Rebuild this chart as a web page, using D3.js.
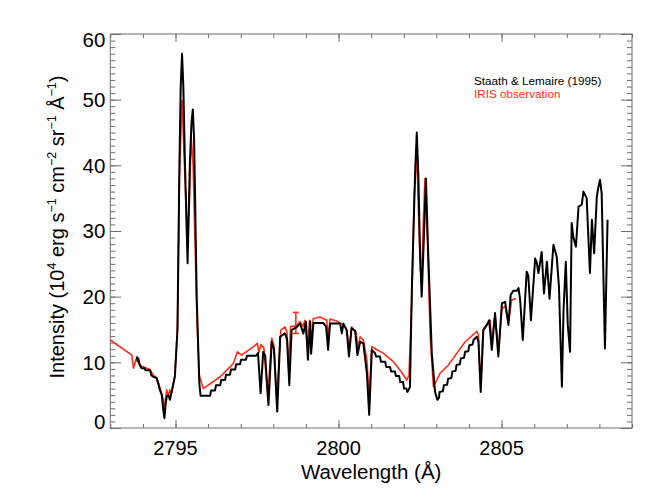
<!DOCTYPE html>
<html><head><meta charset="utf-8">
<script src="https://cdn.jsdelivr.net/npm/d3@7"></script>
<style>
body{margin:0;background:#fff}
svg{display:block}
text{font-family:"Liberation Sans",Arial,Helvetica,sans-serif}
</style>
</head><body>
<svg id="chart" width="665" height="499"></svg>
<script>
// Staath & Lemaire (1995) spectrum
const stLambda = [2793.81,2793.84,2793.86,2793.90,2793.96,2794.05,2794.08,2794.22,2794.26,2794.32,2794.42,2794.47,2794.52,2794.58,2794.62,2794.66,2794.70,2794.73,2794.78,2794.83,2794.88,2794.98,2795.06,2795.12,2795.16,2795.20,2795.24,2795.29,2795.37,2795.44,2795.49,2795.53,2795.57,2795.60,2795.65,2795.73,2795.77,
2796.06,2796.09,2796.21,2796.24,2796.37,2796.40,2796.52,2796.55,2796.67,2796.70,2796.83,2796.86,2796.98,2797.01,2797.16,2797.19,2797.47,2797.53,2797.61,2797.69,2797.75,2797.85,2797.95,2798.02,2798.12,2798.21,2798.36,2798.42,2798.49,2798.56,2798.72,2798.82,2798.92,2799.00,2799.06,2799.13,2799.16,2799.23,2799.53,2799.62,2799.68,2799.74,2800.05,2800.10,2800.15,2800.25,2800.32,2800.40,2800.51,2800.58,2800.66,2800.76,2800.87,2800.94,2801.02,2801.12,2801.15,2801.27,2801.30,2801.43,2801.46,2801.58,2801.61,2801.73,2801.76,2801.86,2801.89,2801.98,2802.01,2802.08,2802.11,2802.19,2802.25,2802.35,2802.40,2802.45,2802.50,2802.55,2802.61,2802.68,2802.75,2802.86,2802.96,2803.03,2803.08,2803.10,2803.20,2803.23,2803.33,2803.36,2803.46,2803.49,2803.59,2803.62,2803.72,2803.75,2803.85,2803.88,2803.98,2804.01,2804.11,2804.14,2804.24,2804.29,2804.36,2804.44,2804.55,2804.62,2804.70,2804.80,2804.90,2805.01,2805.11,2805.21,2805.28,2805.36,2805.47,2805.52,2805.57,2805.65,2805.77,2805.82,2805.90,2806.03,2806.08,2806.13,2806.23,2806.30,2806.39,2806.47,2806.59,2806.69,2806.76,2806.85,2806.90,2806.97,2807.03,2807.10,2807.15,2807.20,2807.28,2807.36,2807.46,2807.51,2807.61,2807.71,2807.77,2807.84,2807.92,2807.97,2808.02,2808.07,2808.17,2808.25];
const stIntensity = [10.9,10.2,10.6,9.6,9.1,9.1,8.8,8.8,8.0,7.8,7.6,6.8,5.8,5.0,3.0,1.5,3.8,4.8,5.0,4.3,5.5,7.8,14.9,40.3,52,57.0,52,40.3,25.1,40.3,46.5,48.5,44,35.2,20.0,6.8,4.9,
4.9,5.7,5.7,6.5,6.5,7.3,7.3,8.1,8.1,8.9,8.9,9.7,9.7,10.4,10.4,11.0,11.0,11.4,5.3,11.6,11.0,3.5,13.1,12.0,2.5,13.9,14.4,13.5,6.5,14.9,15.4,15.9,14.4,16.2,10.4,16.2,11.3,16.0,16.0,15.4,11.9,15.9,15.9,14.4,15.9,14.9,10.9,15.2,14.8,11.1,13.1,12.9,8.3,2.0,11.9,11.4,10.9,10.9,10.1,10.1,9.3,9.3,8.6,8.6,7.9,7.9,7.0,7.0,6.0,6.0,5.5,6.2,21.5,39.3,45.0,38.0,26.6,20.0,28.0,38.0,26.6,11.4,5.5,4.3,4.6,5.5,5.6,6.5,6.6,7.5,7.6,8.6,8.7,9.6,9.7,10.6,10.7,11.6,11.7,12.6,12.7,13.4,13.9,13.2,5.5,14.9,15.7,16.4,11.9,17.5,10.9,19.0,19.2,15.7,20.3,20.9,20.9,21.3,19.5,13.4,23.8,23.2,16.4,25.8,25.2,23.6,26.8,20.5,25.3,19.7,27.9,26.1,21.5,6.3,18.0,25.3,15.7,11.6,31.2,29.1,27.6,33.7,34.0,36.0,35.0,23.6,31.7,26.6,35.2,36.7,37.8,35.7,12.1,31.7];

// IRIS observation
const irisLambda = [2793.00,2793.66,2793.71,2793.79,2793.86,2793.96,2794.22,2794.32,2794.42,2794.52,2794.59,2794.66,2794.73,2794.78,2794.83,2794.88,2794.98,2795.06,2795.12,2795.20,2795.29,2795.37,2795.43,2795.48,2795.54,2795.60,2795.66,2795.73,2795.85,2796.37,2796.77,2796.90,2797.03,2797.39,2797.51,2797.56,2797.62,2797.71,2797.83,2797.95,2798.02,2798.10,2798.23,2798.36,2798.42,2798.47,2798.53,2798.70,2798.82,2798.91,2798.97,2799.05,2799.11,2799.16,2799.22,2799.28,2799.43,2799.64,2799.68,2799.74,2799.94,2800.15,2800.25,2800.33,2800.40,2800.54,2800.60,2800.66,2800.76,2800.87,2800.94,2801.02,2801.15,2801.37,2801.68,2801.89,2802.09,2802.16,2802.25,2802.32,2802.40,2802.45,2802.51,2802.55,2802.59,2802.65,2802.73,2802.81,2802.91,2803.11,2803.37,2803.63,2803.88,2804.24,2804.29,2804.36,2804.43,2804.49,2804.65,2804.70,2804.80,2804.90,2805.01,2805.11,2805.21,2805.31,2805.44];
const irisIntensity = [13.4,11.1,9.1,10.5,10.0,9.4,8.9,8.0,7.7,6.2,5.0,3.2,5.8,4.9,5.8,5.3,8.0,15.5,38,49.9,38,27.9,35,44.4,40,28,16,8.0,6.0,7.8,9.8,11.6,11.1,12.4,12.9,11.5,12.7,12.2,4.8,13.7,12.5,4.3,14.9,15.4,14.5,9.0,15.5,15.5,16.2,15.5,16.4,12.0,16.4,13.0,16.6,16.7,16.9,16.4,13.5,16.6,16.3,15.7,15.0,12.4,15.4,14.5,12.0,13.9,13.4,10.4,4.5,12.4,12.0,11.4,10.1,8.8,7.3,8.0,20,35,42.3,33,24,22.8,30,38.0,28,14,6.3,8.3,9.6,11.4,13.1,14.7,14.2,6.0,14.8,15.4,16.4,13.0,17.3,11.5,18.2,18.5,16.0,19.5,19.7];

// error bar on IRIS
const errLambda = [2798.69];
const errLow = [14.4];
const errHigh = [17.6];

// axes
const xDomain = [2793, 2809];
const yDomain = [0, 60];
const xMajor = [2795, 2800, 2805];
const yMajor = [0, 10, 20, 30, 40, 50, 60];
const legendLabels = ["Staath & Lemaire (1995)", "IRIS observation"];

const svg = d3.select("#chart");
const L = 110.3, R = 632, T = 34, B = 428;
const x = d3.scaleLinear().domain(xDomain).range([L, R]);
const y = d3.scaleLinear().domain(yDomain).range([B, T]);

const red = "#ff2d17";
const axisCol = "#6e6e6e";

const xMinor = d3.range(xDomain[0], xDomain[1] + 0.001, 1);
const yMinor = d3.range(yDomain[0], yDomain[1] + 0.001, 1);

function styleAxis(g){
  g.select(".domain").remove();
  g.selectAll(".tick line").attr("stroke", axisCol).attr("stroke-width", 1);
}
// bottom
svg.append("g").attr("transform", `translate(0,${B})`)
  .call(d3.axisBottom(x).tickValues(xMinor).tickSize(-4).tickFormat("")).call(styleAxis);
svg.append("g").attr("transform", `translate(0,${B})`)
  .call(d3.axisBottom(x).tickValues(xMajor).tickSize(-8).tickFormat("")).call(styleAxis);
// top
svg.append("g").attr("transform", `translate(0,${T})`)
  .call(d3.axisTop(x).tickValues(xMinor).tickSize(-4).tickFormat("")).call(styleAxis);
svg.append("g").attr("transform", `translate(0,${T})`)
  .call(d3.axisTop(x).tickValues(xMajor).tickSize(-8).tickFormat("")).call(styleAxis);
// left
svg.append("g").attr("transform", `translate(${L},0)`)
  .call(d3.axisLeft(y).tickValues(yMinor).tickSize(-5).tickFormat("")).call(styleAxis);
svg.append("g").attr("transform", `translate(${L},0)`)
  .call(d3.axisLeft(y).tickValues(yMajor).tickSize(-11).tickFormat("")).call(styleAxis);
// right
svg.append("g").attr("transform", `translate(${R},0)`)
  .call(d3.axisRight(y).tickValues(yMinor).tickSize(-5).tickFormat("")).call(styleAxis);
svg.append("g").attr("transform", `translate(${R},0)`)
  .call(d3.axisRight(y).tickValues(yMajor).tickSize(-11).tickFormat("")).call(styleAxis);

// frame
svg.append("rect").attr("x", L).attr("y", T).attr("width", R - L).attr("height", B - T)
  .attr("fill", "none").attr("stroke", axisCol).attr("stroke-width", 1);

// tick labels
svg.append("g").selectAll("text").data(xMajor).join("text")
  .attr("x", d => x(d)).attr("y", B + 27).attr("text-anchor", "middle")
  .attr("font-size", 20).attr("fill", "#000").text(d => d);
svg.append("g").selectAll("text").data(yMajor).join("text")
  .attr("x", L - 5).attr("y", d => Math.max(T + 6, Math.min(B - 6, y(d))))
  .attr("dy", "0.36em").attr("text-anchor", "end")
  .attr("font-size", 20.5).attr("fill", "#000").text(d => d);

// axis titles
svg.append("text").attr("x", (L + R) / 2).attr("y", 479).attr("text-anchor", "middle")
  .attr("font-size", 20.5).text("Wavelength (Å)");

const yt = svg.append("text").attr("transform", `translate(64,227) rotate(-90)`)
  .attr("text-anchor", "middle").attr("font-size", 20);
const parts = [["Intensity (10",0],["4",1],[" erg s",0],["−1",1],[" cm",0],["−2",1],[" sr",0],["−1",1],[" Å",0],["−1",1],[")",0]];
let prevSup = false;
parts.forEach(([t, s]) => {
  const ts = yt.append("tspan").text(t);
  if (s && !prevSup) ts.attr("dy", -8).attr("font-size", 12.5);
  else if (!s && prevSup) ts.attr("dy", 8);
  else if (s) ts.attr("font-size", 12.5);
  prevSup = !!s;
});

// lines
const lineGen = d3.line().x(d => x(d[0])).y(d => y(d[1]));
const irisData = irisLambda.map((l, i) => [l, irisIntensity[i]]);
const stData = stLambda.map((l, i) => [l, stIntensity[i]]);

svg.append("path").datum(irisData).attr("d", lineGen)
  .attr("fill", "none").attr("stroke", red).attr("stroke-width", 1.6).attr("stroke-linejoin", "round");

// error bar
const eg = svg.append("g").attr("stroke", red).attr("stroke-width", 1.6);
errLambda.forEach((l, i) => {
  eg.append("line").attr("x1", x(l)).attr("x2", x(l)).attr("y1", y(errLow[i])).attr("y2", y(errHigh[i]));
  eg.append("line").attr("x1", x(l) - 3).attr("x2", x(l) + 3).attr("y1", y(errLow[i])).attr("y2", y(errLow[i]));
  eg.append("line").attr("x1", x(l) - 3).attr("x2", x(l) + 3).attr("y1", y(errHigh[i])).attr("y2", y(errHigh[i]));
});

svg.append("path").datum(stData).attr("d", lineGen)
  .attr("fill", "none").attr("stroke", "#000").attr("stroke-width", 2).attr("stroke-linejoin", "round");

// legend
svg.append("text").attr("x", 474).attr("y", 85).attr("font-size", 11.7).attr("fill", "#000").text(legendLabels[0]);
svg.append("text").attr("x", 474).attr("y", 98).attr("font-size", 11.7).attr("fill", red).text(legendLabels[1]);
</script>
</body></html>
